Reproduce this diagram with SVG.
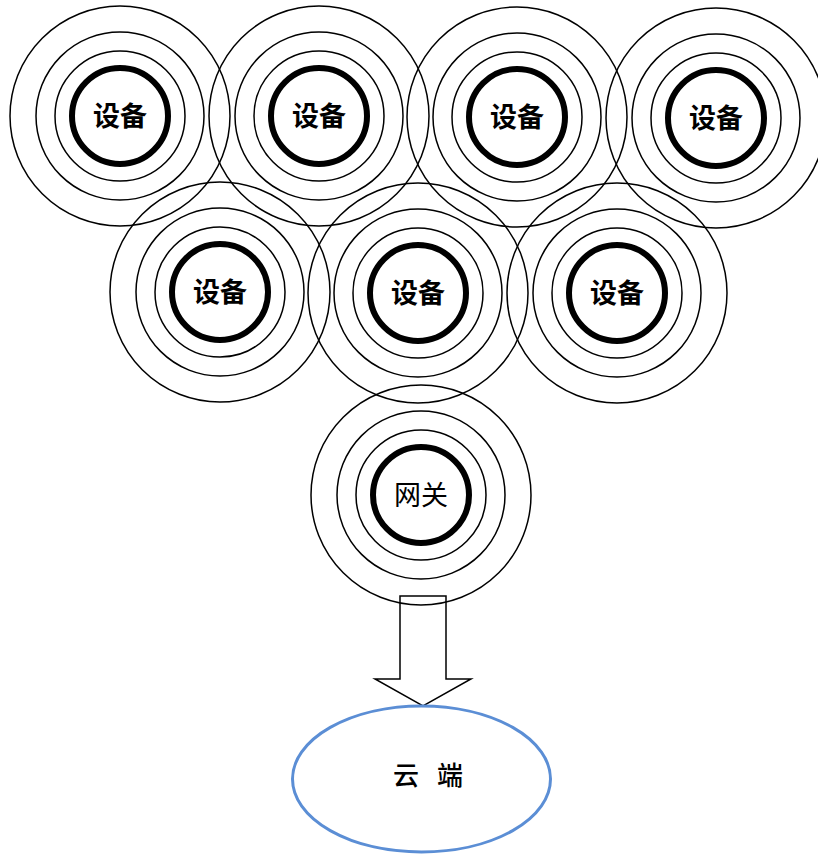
<svg xmlns="http://www.w3.org/2000/svg" xmlns:xlink="http://www.w3.org/1999/xlink" width="818" height="854" viewBox="0 0 818 854">
<style>
.ring{fill:none;stroke:#000;stroke-width:1.5}
.core{fill:none;stroke:#000;stroke-width:6}
.lbl{font-family:"Noto Sans CJK SC","Liberation Sans",sans-serif;font-size:27px;font-weight:bold;fill:#000;text-anchor:middle;dominant-baseline:central}
.lbl2{font-family:"Noto Sans CJK SC","Liberation Sans",sans-serif;font-size:27px;font-weight:normal;fill:#000;text-anchor:middle;dominant-baseline:central}
.arrow{fill:none;stroke:#000;stroke-width:1.5}
.cloud{fill:none;stroke:#5B8ED5;stroke-width:3}
</style>
<defs>
<g id="rings">
<circle class="ring" cx="0" cy="0" r="110"/>
<circle class="ring" cx="0" cy="0" r="84"/>
<circle class="ring" cx="0" cy="0" r="65"/>
<circle class="core" cx="0" cy="0" r="48"/>
</g>
</defs>
<g id="dev1" transform="translate(120,116)"><use xlink:href="#rings"/><text class="lbl" x="0" y="-2">设备</text></g>
<g id="dev2" transform="translate(319,116)"><use xlink:href="#rings"/><text class="lbl" x="0" y="-2">设备</text></g>
<g id="dev3" transform="translate(517,117)"><use xlink:href="#rings"/><text class="lbl" x="0" y="-2">设备</text></g>
<g id="dev4" transform="translate(716,118)"><use xlink:href="#rings"/><text class="lbl" x="0" y="-2">设备</text></g>
<g id="dev5" transform="translate(220,292)"><use xlink:href="#rings"/><text class="lbl" x="0" y="-2">设备</text></g>
<g id="dev6" transform="translate(418,293)"><use xlink:href="#rings"/><text class="lbl" x="0" y="-2">设备</text></g>
<g id="dev7" transform="translate(617,293)"><use xlink:href="#rings"/><text class="lbl" x="0" y="-2">设备</text></g>
<g id="gateway" transform="translate(421,495)"><use xlink:href="#rings"/><text class="lbl2" x="0" y="-2">网关</text></g>
<g id="connectors">
<path class="arrow" d="M400,596 H446 V679 H471 L423,706 L375,679 H400 Z"/>
</g>
<g id="cloud">
<ellipse class="cloud" cx="421.5" cy="779" rx="129" ry="73"/>
<text class="lbl2" x="406" y="773" style="font-size:26px;font-weight:500">云</text>
<text class="lbl2" x="450" y="773" style="font-size:26px;font-weight:500">端</text>
</g>
</svg>
